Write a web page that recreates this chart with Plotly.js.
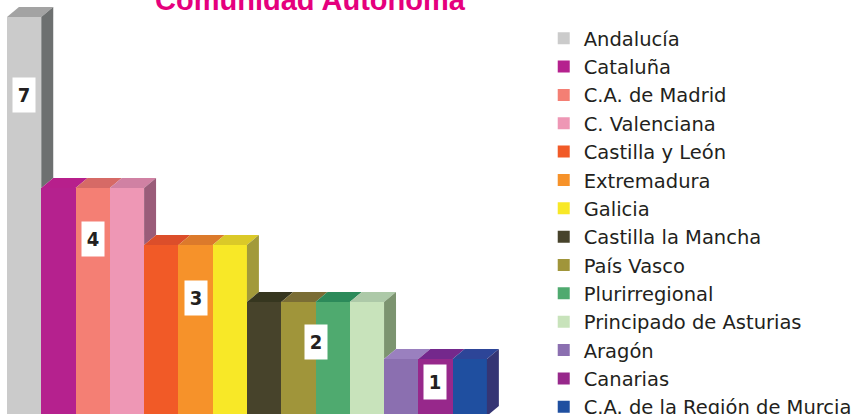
<!DOCTYPE html>
<html><head><meta charset="utf-8">
<script src="https://cdn.plot.ly/plotly-3.0.1.min.js"></script>
<style>html,body{margin:0;padding:0;background:#fff;overflow:hidden;width:857px;height:414px;} #chart{width:857px;height:460px;}</style>
</head><body><div id="chart"></div>
<script>
const categories = ["Andalucía","Cataluña","C.A. de Madrid","C. Valenciana","Castilla y León","Extremadura","Galicia","Castilla la Mancha","País Vasco","Plurirregional","Principado de Asturias","Aragón","Canarias","C.A. de la Región de Murcia"];
const values = [7,4,4,4,3,3,3,2,2,2,2,1,1,1];
const frontColors = ["#cbcbcb","#b5218e","#f47f74","#ee97b5","#f15a27","#f6922a","#f8e827","#47432b","#a0953a","#4faa6f","#c8e3bb","#8b6fb0","#97288b","#1f4fa0"];
const topColors = ["#a3a3a3","#b71f8c","#d66a66","#d081a3","#dc4e2a","#dc7a2b","#dbc928","#36361f","#7a6d35","#2c8a5a","#adc9a8","#9a80bf","#74288c","#2d4598"];
const sideColors = ["#6d7070","#7a1760","#a85550","#9a5c79","#a33c1c","#a8641d","#a29a3a","#2e2c1c","#6c6528","#35744b","#7c9470","#5e4b78","#661b5e","#353574"];
const labelHeights = {7:5.63, 4:3.1, 3:2.07, 2:1.3, 1:0.6};

const DX = 12/34.36, DY = 10/57;
const traces = [];
categories.forEach((c, i) => {
  const v = values[i];
  const next = i < values.length - 1 ? values[i+1] : 0;
  const L = i - 0.5, R = i + 0.5;
  traces.push({type:'bar', x:[i], y:[v], width:1, name:c, marker:{color:frontColors[i], line:{width:0}}, hoverinfo:'skip'});
  traces.push({type:'scatter', mode:'none', fill:'toself', fillcolor:topColors[i], showlegend:false, hoverinfo:'skip',
    x:[L, R, R+DX, L+DX, L], y:[v, v, v+DY, v+DY, v]});
  if (v > next) {
    traces.push({type:'scatter', mode:'none', fill:'toself', fillcolor:sideColors[i], showlegend:false, hoverinfo:'skip',
      x:[R, R+DX, R+DX, R, R], y:[next, next+DY, v+DY, v, next]});
  }
});

const annotations = [];
let s = 0;
for (let i = 1; i <= values.length; i++) {
  if (i === values.length || values[i] !== values[s]) {
    const v = values[s];
    annotations.push({x:(s + i - 1)/2, y:labelHeights[v], xref:'x', yref:'y', text:String(v), showarrow:false,
      bgcolor:'#ffffff', width:22, height:34, borderpad:0,
      font:{family:'Liberation Sans Narrow, DejaVu Sans Condensed, sans-serif', size:20, weight:'bold', color:'#231f20'}});
    s = i;
  }
}

const H = 460;
const layout = {
  width:857, height:H,
  margin:{l:0, r:0, t:0, b:0},
  paper_bgcolor:'#ffffff', plot_bgcolor:'#ffffff',
  barmode:'overlay', bargap:0,
  showlegend:true,
  title:{text:'Comunidad Autónoma', x:310/857, xref:'container', xanchor:'center', y:1-10/H, yref:'container', yanchor:'bottom',
    font:{family:'Liberation Sans, Arial, sans-serif', size:29, weight:'bold', color:'#e5007d'}},
  xaxis:{range:[-0.5-7/34.36, -0.5-7/34.36+857/34.36], showgrid:false, zeroline:false, showticklabels:false, showline:false, ticks:'', fixedrange:true},
  yaxis:{range:[-(H-416)/57, 416/57], showgrid:false, zeroline:false, showticklabels:false, showline:false, ticks:'', fixedrange:true},
  legend:{x:545/857, y:1-19/H, xanchor:'left', yanchor:'top', bgcolor:'rgba(0,0,0,0)', borderwidth:0,
    font:{family:'DejaVu Sans, sans-serif', size:19.5, color:'#231f20'}},
  annotations:annotations,
  hovermode:false
};
Plotly.newPlot('chart', traces, layout, {displayModeBar:false, staticPlot:true});
</script>
</body></html>
